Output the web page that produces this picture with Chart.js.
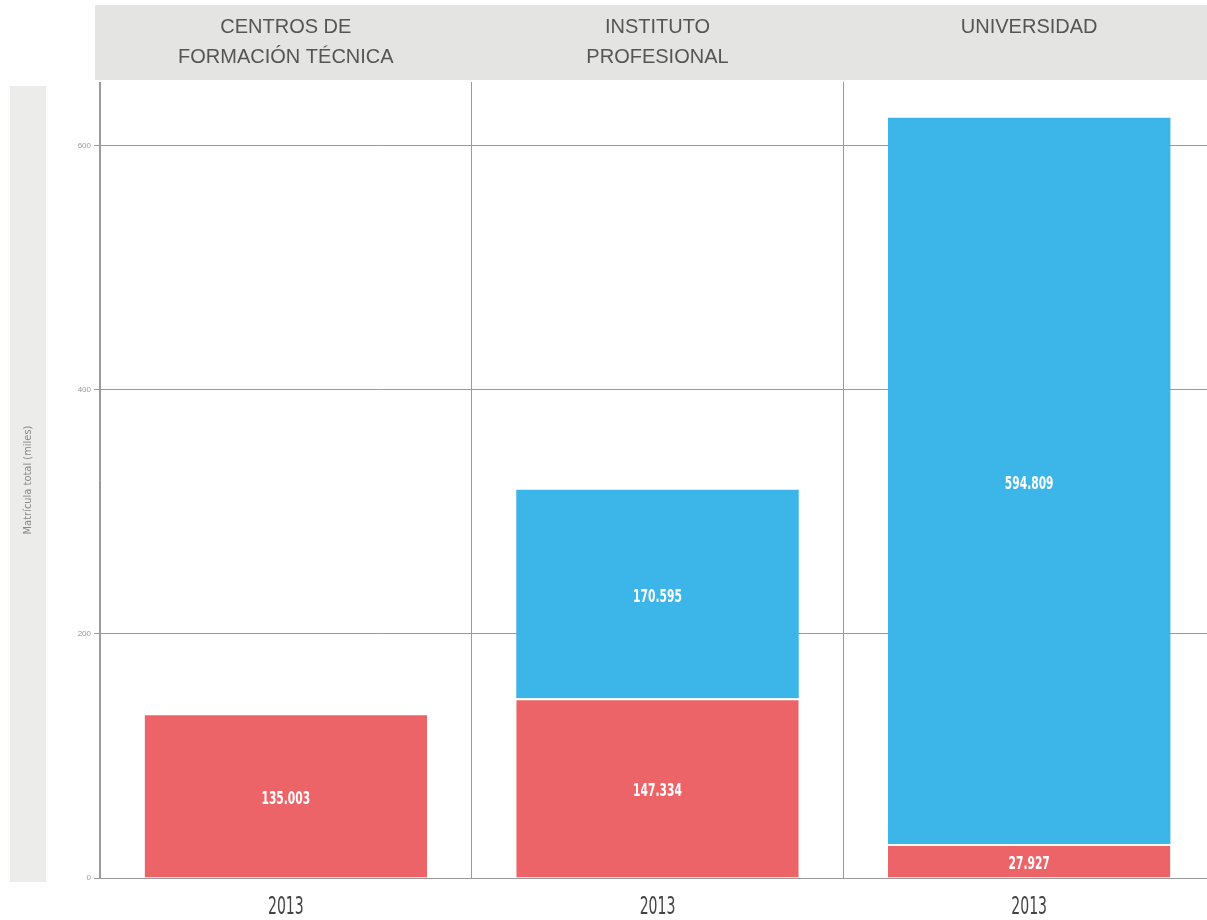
<!DOCTYPE html>
<html>
<head>
<meta charset="utf-8">
<script src="https://cdn.jsdelivr.net/npm/chart.js@4"></script>
<style>
  html, body { margin: 0; padding: 0; background: #fff; overflow: hidden; }
  #wrap { width: 1215px; height: 920px; position: relative; }
</style>
</head>
<body>
<div id="wrap"><canvas id="chart"></canvas></div>
<script>
// data (matrícula, miles)
const headers = [['CENTROS DE', 'FORMACIÓN TÉCNICA'], ['INSTITUTO', 'PROFESIONAL'], ['UNIVERSIDAD']];
const years = ['2013', '2013', '2013'];
const redValues = [135.003, 147.334, 27.927];
const blueValues = [0, 170.595, 594.809];
const yTicks = [0, 200, 400, 600];
const yTitle = 'Matrícula total (miles)';

const RED = '#ec6468';
const BLUE = '#3cb5e9';
const GRID = '#9a9a9a';
const COND = "'DejaVu Sans Condensed', 'DejaVu Sans', sans-serif";

// backdrop: header band + strip behind the y title
const backdrop = {
  id: 'backdrop',
  beforeDraw(chart) {
    const { ctx, chartArea } = chart;
    ctx.save();
    ctx.fillStyle = '#e4e4e2';
    ctx.fillRect(95, 5, chart.width - 95, chartArea.top - 7);
    ctx.fillStyle = '#ececea';
    ctx.fillRect(10, chartArea.top + 4, 36, chartArea.bottom - chartArea.top);
    ctx.restore();
  }
};

// narrow text helper (the print uses a condensed face)
function narrowText(ctx, text, x, y, sx) {
  ctx.save();
  ctx.translate(x, y);
  ctx.scale(sx, 1);
  ctx.fillText(text, 0, 0);
  ctx.restore();
}

// value labels inside each segment + year labels under the axis
const barLabels = {
  id: 'barLabels',
  afterDatasetsDraw(chart) {
    const { ctx } = chart;
    ctx.save();
    ctx.font = 'bold 17px ' + COND;
    ctx.fillStyle = '#fff';
    ctx.textAlign = 'center';
    ctx.textBaseline = 'middle';
    chart.data.datasets.forEach((ds, i) => {
      chart.getDatasetMeta(i).data.forEach((bar, j) => {
        const v = ds.data[j];
        if (!v) return;
        const mid = (bar.y + bar.base) / 2;
        narrowText(ctx, v.toFixed(3), bar.x, mid + 4, 0.7);
      });
    });

    const xs = chart.scales.x;
    ctx.font = '24px ' + COND;
    ctx.fillStyle = '#444';
    chart.data.labels.forEach((lab, j) => {
      narrowText(ctx, lab, xs.getPixelForTick(j), xs.top + 30, 0.65);
    });
    ctx.restore();
  }
};

const ctx = document.getElementById('chart').getContext('2d');
new Chart(ctx, {
  type: 'bar',
  data: {
    labels: years,
    datasets: [
      { label: 'rojo', data: redValues, backgroundColor: RED, borderColor: '#fff',
        borderWidth: { top: 2, left: 0, right: 0, bottom: 0 }, borderSkipped: false },
      { label: 'azul', data: blueValues, backgroundColor: BLUE, borderWidth: 0 }
    ]
  },
  options: {
    responsive: true,
    maintainAspectRatio: false,
    animation: false,
    layout: { padding: { top: 2, right: 0, bottom: 42, left: 0 } },
    datasets: { bar: { categoryPercentage: 0.76, barPercentage: 1 } },
    plugins: { legend: { display: false }, tooltip: { enabled: false } },
    scales: {
      x: {
        stacked: true,
        position: 'bottom',
        grid: { color: GRID, lineWidth: 1, drawTicks: false, offset: true },
        border: { color: GRID, width: 1 },
        ticks: { display: false }
      },
      top: {
        type: 'category',
        position: 'top',
        labels: headers,
        offset: true,
        grid: { display: false, drawTicks: false },
        border: { display: false },
        ticks: { color: '#555', font: { family: "'Liberation Sans', Arial, sans-serif", size: 20, lineHeight: 1.5 },
                 crossAlign: 'far', padding: 10 }
      },
      y: {
        stacked: true,
        min: 0,
        max: 652,
        afterFit(scale) { scale.width = 100; },
        afterBuildTicks(scale) { scale.ticks = yTicks.map(v => ({ value: v })); },
        grid: { color: GRID, lineWidth: 1, tickLength: 6 },
        border: { color: GRID, width: 1 },
        ticks: { color: '#999', font: { size: 8 }, padding: 3 },
        title: { display: true, text: yTitle, color: '#888', font: { family: COND, size: 11 },
                 padding: { top: 22, bottom: 0 } }
      }
    }
  },
  plugins: [backdrop, barLabels]
});
</script>
</body>
</html>
